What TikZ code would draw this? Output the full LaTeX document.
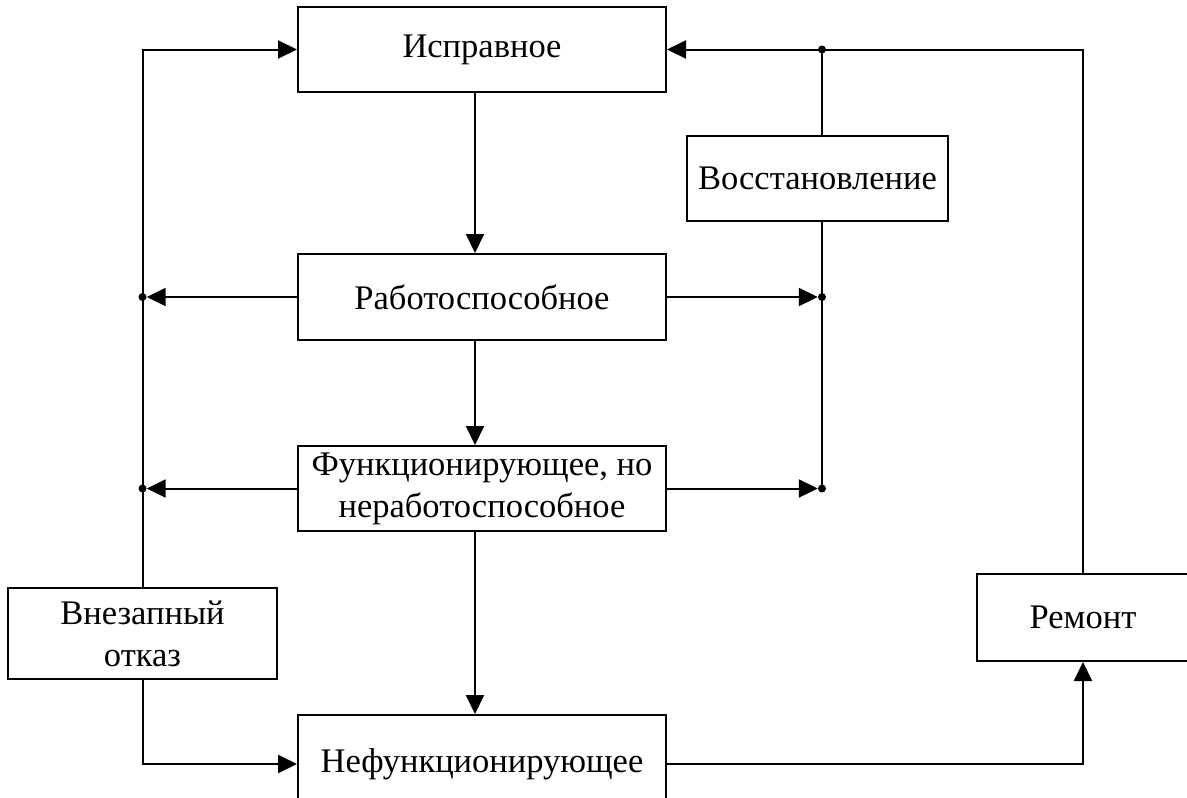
\documentclass[tikz,border=0pt]{standalone}
\usepackage{fontspec}
\setmainfont{Liberation Serif}
\usetikzlibrary{arrows.meta}

\begin{document}
\begin{tikzpicture}[x=1pt,y=-1pt,
  box/.style={draw, line width=2pt, inner sep=0pt, align=center,
    font=\fontsize{34.5}{42}\selectfont},
  link/.style={line width=2pt},
  arr/.style={link, -{Triangle[length=19pt,width=18pt]}},
  jn/.style={circle, fill, inner sep=0pt, minimum size=8pt}]
  \useasboundingbox (0,0) rectangle (1187,798);
  \clip (0,0) rectangle (1187,798);

  % states and events
  \node[box, minimum width=368pt, minimum height=85pt] (isp) at (482,49.5) {Исправное};
  \node[box, minimum width=368pt, minimum height=86pt] (rab) at (482,297) {Работоспособное};
  \node[box, minimum width=368pt, minimum height=85pt] (fun) at (482,488.5)
    {Функционирующее, но\\неработоспособное};
  \node[box, minimum width=368pt, minimum height=98pt] (nef) at (482,764) {Нефункционирующее};
  \node[box, minimum width=261pt, minimum height=85pt] (vos) at (817.5,178.5) {Восстановление};
  \node[box, minimum width=269pt, minimum height=91pt] (vnz) at (142.5,633.5) {Внезапный\\отказ};
  \node[box, minimum width=212pt, minimum height=87pt] (rem) at (1083,617.5) {Ремонт};

  % guide coordinates for the trunk lines
  \coordinate (ax) at (475,0);
  \coordinate (vx) at (822,0);

  % junction dots
  \node[jn] (dl1) at (vnz.north |- rab.west) {};
  \node[jn] (dl2) at (vnz.north |- fun.west) {};
  \node[jn] (dr0) at (vx |- isp.east) {};
  \node[jn] (dr1) at (vx |- rab.east) {};
  \node[jn] (dr2) at (vx |- fun.east) {};

  % main chain of degradation
  \draw[arr] (isp.south -| ax) -- (rab.north -| ax);
  \draw[arr] (rab.south -| ax) -- (fun.north -| ax);
  \draw[arr] (fun.south -| ax) -- (nef.north -| ax);

  % sudden failure branch
  \draw[arr] (vnz.north) |- (isp.west);
  \draw[arr] (rab.west) -- (dl1);
  \draw[arr] (fun.west) -- (dl2);
  \draw[arr] (vnz.south) |- (nef.west);

  % restoration branch
  \draw[link] (vos.north -| vx) -- (dr0.center);
  \draw[link] (vos.south -| vx) -- (dr2.center);
  \draw[arr] (rab.east) -- (dr1);
  \draw[arr] (fun.east) -- (dr2);

  % repair loop
  \draw[arr] (nef.east) -| (rem.south);
  \draw[arr] (rem.north) |- (isp.east);
\end{tikzpicture}
\end{document}
